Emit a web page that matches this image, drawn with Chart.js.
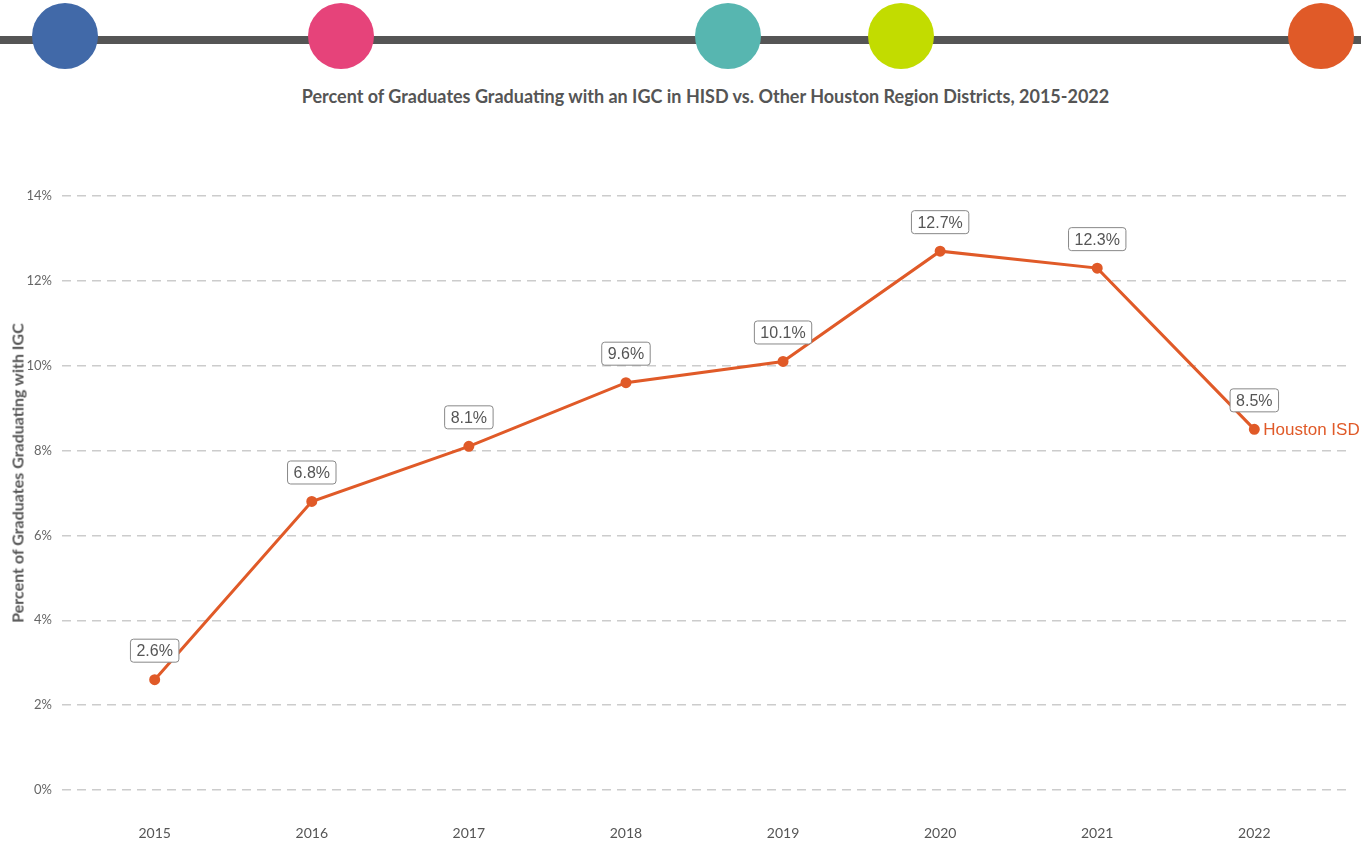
<!DOCTYPE html>
<html>
<head>
<meta charset="utf-8">
<script src="https://cdn.jsdelivr.net/npm/chart.js@4"></script>
<style>
  html, body { margin: 0; padding: 0; background: #fff; }
  body { width: 1361px; height: 842px; position: relative; overflow: hidden; }
  .bar { position: absolute; left: 0; top: 36px; width: 1361px; height: 8px; background: #555; }
  .dot { position: absolute; top: 3px; width: 66px; height: 66px; border-radius: 50%; }
  .title { position: absolute; left: 0; width: 1411px; top: 85px; text-align: center;
    font-family: Lato, sans-serif; font-weight: bold; font-size: 18px; color: #555; }
  .ytitle { position: absolute; left: 17px; top: 473px; transform: translate(-50%, -50%) rotate(-90deg);
    white-space: nowrap; font-family: Lato, sans-serif; font-weight: bold; font-size: 16px; color: #555; }
  #wrap { position: absolute; left: 0; top: 0; width: 1361px; height: 842px; }
</style>
</head>
<body>
<div class="bar"></div>
<div class="dot" style="left:32px;background:#4169a8"></div>
<div class="dot" style="left:308px;background:#e6437a"></div>
<div class="dot" style="left:695px;background:#57b6b0"></div>
<div class="dot" style="left:868px;background:#c2dc00"></div>
<div class="dot" style="left:1288px;background:#e05a28"></div>
<div class="title">Percent of Graduates Graduating with an IGC in HISD vs. Other Houston Region Districts, 2015-2022</div>
<div id="wrap"><canvas id="chart"></canvas></div>
<div class="ytitle">Percent of Graduates Graduating with IGC</div>
<script>
// chart data
const years = [2015, 2016, 2017, 2018, 2019, 2020, 2021, 2022];
const houstonIsd = [2.6, 6.8, 8.1, 9.6, 10.1, 12.7, 12.3, 8.5];
const seriesName = 'Houston ISD';
const yTicks = [0, 2, 4, 6, 8, 10, 12, 14];

const lineColor = '#e05a28';

// value boxes above each point + series name at the end
const pointLabels = {
  id: 'pointLabels',
  afterDatasetsDraw(chart) {
    const ctx = chart.ctx;
    const meta = chart.getDatasetMeta(0);
    ctx.save();
    ctx.font = '16px "Liberation Sans", Arial, sans-serif';
    ctx.textAlign = 'center';
    ctx.textBaseline = 'middle';
    meta.data.forEach((pt, i) => {
      const text = houstonIsd[i].toFixed(1) + '%';
      const w = ctx.measureText(text).width + 12;
      const h = 23;
      const cx = pt.x;
      const cy = pt.y - 29;
      ctx.beginPath();
      ctx.roundRect(cx - w / 2, cy - h / 2, w, h, 3);
      ctx.fillStyle = '#fff';
      ctx.fill();
      ctx.strokeStyle = '#888';
      ctx.lineWidth = 1;
      ctx.stroke();
      ctx.fillStyle = '#555';
      ctx.fillText(text, cx, cy + 1);
    });
    const last = meta.data[meta.data.length - 1];
    ctx.font = '17px "Liberation Sans", Arial, sans-serif';
    ctx.textAlign = 'left';
    ctx.fillStyle = lineColor;
    ctx.fillText(seriesName, last.x + 9, last.y + 1);
    ctx.restore();
  }
};

const ctx = document.getElementById('chart').getContext('2d');
const chart = new Chart(ctx, {
  type: 'line',
  data: {
    datasets: [{
      label: seriesName,
      data: years.map((y, i) => ({ x: y, y: houstonIsd[i] })),
      borderColor: lineColor,
      backgroundColor: lineColor,
      borderWidth: 3,
      pointRadius: 4,
      pointHoverRadius: 4,
      tension: 0
    }]
  },
  options: {
    responsive: true,
    maintainAspectRatio: false,
    animation: false,
    layout: { padding: { top: 196, right: 14, left: 0, bottom: 0 } },
    plugins: {
      legend: { display: false },
      tooltip: { enabled: false }
    },
    scales: {
      x: {
        type: 'linear',
        min: 2014.41,
        max: 2022.59,
        afterBuildTicks: (scale) => { scale.ticks = years.map(v => ({ value: v })); },
        afterFit: (scale) => { scale.height = 52; },
        grid: { display: false, drawTicks: false },
        border: { display: false },
        ticks: {
          padding: 35,
          color: '#555',
          font: { family: 'Lato, sans-serif', size: 14 },
          callback: (v) => String(v)
        }
      },
      y: {
        min: 0,
        max: 14,
        afterBuildTicks: (scale) => { scale.ticks = yTicks.map(v => ({ value: v })); },
        afterFit: (scale) => { scale.width = 62; },
        grid: { color: '#cccccc', lineWidth: 1.5, drawTicks: false },
        border: { display: false, dash: [9, 6] },
        ticks: {
          padding: 10,
          color: '#666',
          font: { family: 'Lato, sans-serif', size: 13 },
          callback: (v) => v + '%'
        }
      }
    }
  },
  plugins: [pointLabels]
});
</script>
</body>
</html>
